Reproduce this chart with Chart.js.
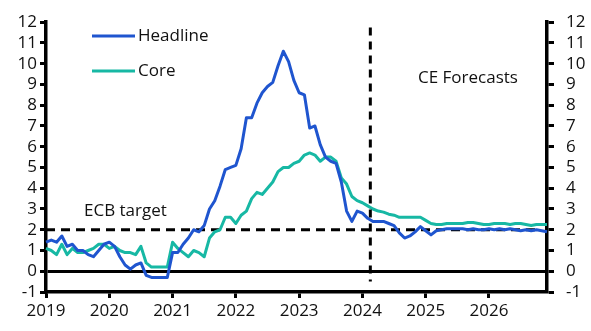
<!DOCTYPE html>
<html>
<head>
<meta charset="utf-8">
<script src="https://cdn.jsdelivr.net/npm/chart.js@4.4.1/dist/chart.umd.min.js"></script>
<style>
  html, body { margin: 0; padding: 0; background: #fff; }
  #wrap { width: 591px; height: 331px; }
</style>
</head>
<body>
<div id="wrap"><canvas id="cpi" width="591" height="331"></canvas></div>
<script>
// Euro-zone HICP inflation, % y/y, monthly Jan 2019 - Dec 2026
const years = [2019, 2020, 2021, 2022, 2023, 2024, 2025, 2026];
const monthNames = ["Jan", "Feb", "Mar", "Apr", "May", "Jun", "Jul", "Aug", "Sep", "Oct", "Nov", "Dec"];
const labels = years.flatMap(y => monthNames.map(m => m + " " + y));

const headline = [
  1.4, 1.5, 1.4, 1.7, 1.2, 1.3, 1.0, 1.0, 0.8, 0.7, 1.0, 1.3,
  1.4, 1.2, 0.7, 0.3, 0.1, 0.3, 0.4, -0.2, -0.3, -0.3, -0.3, -0.3,
  0.9, 0.9, 1.3, 1.6, 2.0, 1.9, 2.2, 3.0, 3.4, 4.1, 4.9, 5.0,
  5.1, 5.9, 7.4, 7.4, 8.1, 8.6, 8.9, 9.1, 9.9, 10.6, 10.1, 9.2,
  8.6, 8.5, 6.9, 7.0, 6.1, 5.5, 5.3, 5.2, 4.3, 2.9, 2.4, 2.9,
  2.8, 2.55, 2.4, 2.4, 2.4, 2.3, 2.2, 1.85, 1.6, 1.7, 1.9, 2.15,
  1.95, 1.75, 1.95, 2.0, 2.05, 2.05, 2.05, 2.05, 2.0, 2.05, 2.0, 2.0,
  2.05, 2.0, 2.05, 2.0, 2.05, 2.0, 1.95, 2.0, 1.95, 2.0, 1.95, 1.9
];

const core = [
  1.1, 1.0, 0.8, 1.3, 0.8, 1.1, 0.9, 0.9, 1.0, 1.1, 1.3, 1.3,
  1.1, 1.2, 1.0, 0.9, 0.9, 0.8, 1.2, 0.4, 0.2, 0.2, 0.2, 0.2,
  1.4, 1.1, 0.9, 0.7, 1.0, 0.9, 0.7, 1.6, 1.9, 2.0, 2.6, 2.6,
  2.3, 2.7, 2.9, 3.5, 3.8, 3.7, 4.0, 4.3, 4.8, 5.0, 5.0, 5.2,
  5.3, 5.6, 5.7, 5.6, 5.3, 5.5, 5.5, 5.3, 4.5, 4.2, 3.6, 3.4,
  3.3, 3.15, 3.0, 2.9, 2.85, 2.75, 2.7, 2.6, 2.6, 2.6, 2.6, 2.6,
  2.45, 2.3, 2.25, 2.25, 2.3, 2.3, 2.3, 2.3, 2.35, 2.35, 2.3, 2.25,
  2.25, 2.3, 2.3, 2.3, 2.25, 2.3, 2.3, 2.25, 2.2, 2.25, 2.25, 2.25
];

const ecbTarget = 2;
const forecastStart = 61.5;   // month index, between Feb and Mar 2024
const yMin = -1, yMax = 12;

const FONT = "'Open Sans', sans-serif";
const INK = "#111";

// legend, target line, forecast divider and text labels
const overlay = {
  id: "overlay",
  beforeDatasetsDraw(chart) {
    const { ctx, chartArea, scales } = chart;
    ctx.save();
    ctx.strokeStyle = "#000";
    ctx.lineWidth = 3;
    ctx.setLineDash([9, 6]);
    const yT = scales.y.getPixelForValue(ecbTarget);
    ctx.beginPath();
    ctx.moveTo(chartArea.left, yT);
    ctx.lineTo(chartArea.right - 8, yT);
    ctx.stroke();
    ctx.restore();
  },
  afterDatasetsDraw(chart) {
    const { ctx, scales } = chart;
    ctx.save();
    ctx.strokeStyle = "#000";
    ctx.lineWidth = 3;
    ctx.setLineDash([8, 6]);
    const xF = scales.x.getPixelForValue(forecastStart);
    ctx.beginPath();
    ctx.moveTo(xF, scales.y.getPixelForValue(11.75));
    ctx.lineTo(xF, scales.y.getPixelForValue(-0.5));
    ctx.stroke();
    ctx.setLineDash([]);

    ctx.font = "17px " + FONT;
    ctx.textBaseline = "middle";
    ctx.fillStyle = INK;
    chart.data.datasets.forEach((ds, i) => {
      const y = 36 + i * 35;
      ctx.strokeStyle = ds.borderColor;
      ctx.lineWidth = 3;
      ctx.beginPath();
      ctx.moveTo(92, y);
      ctx.lineTo(135, y);
      ctx.stroke();
      ctx.fillText(ds.label, 138, y);
    });

    ctx.fillText("ECB target", 84, 211);
    ctx.fillText("CE Forecasts", 418, 78);
    ctx.restore();
  }
};

new Chart(document.getElementById("cpi"), {
  type: "line",
  data: {
    labels: labels,
    datasets: [
      { label: "Headline", data: headline, borderColor: "#1f55cf", order: 1 },
      { label: "Core", data: core, borderColor: "#17b8a4", order: 2 }
    ]
  },
  options: {
    responsive: false,
    animation: false,
    events: [],
    layout: { padding: { top: 9, left: 0, right: 0, bottom: 0 } },
    elements: {
      line: { borderWidth: 3, tension: 0, borderJoinStyle: "round" },
      point: { radius: 0 }
    },
    plugins: { legend: { display: false }, tooltip: { enabled: false } },
    scales: {
      x: {
        type: "category",
        offset: false,
        afterFit: s => { s.height = 39; },
        border: { display: true, color: "#000", width: 3.5 },
        grid: {
          drawOnChartArea: false,
          drawTicks: true,
          tickLength: 6,
          tickWidth: 3,
          tickColor: c => (c.index % 12 === 0 ? "#000" : "rgba(0,0,0,0)")
        },
        ticks: {
          autoSkip: false,
          maxRotation: 0,
          padding: 3,
          color: INK,
          font: { family: FONT, size: 17 },
          callback: function (v, i) {
            const lab = this.getLabelForValue(v);
            return lab.startsWith("Jan") ? lab.slice(4) : "";
          }
        }
      },
      y: {
        position: "left",
        min: yMin,
        max: yMax,
        afterFit: s => { s.width = 46; },
        border: { display: true, color: "#000", width: 3.5 },
        grid: {
          drawOnChartArea: true,
          color: c => (c.tick && c.tick.value === 0 ? "#000" : "rgba(0,0,0,0)"),
          lineWidth: 3,
          tickColor: "#000",
          tickLength: 6,
          tickWidth: 3
        },
        ticks: {
          stepSize: 1,
          autoSkip: false,
          padding: 3,
          color: INK,
          font: { family: FONT, size: 17 }
        }
      },
      y2: {
        position: "right",
        min: yMin,
        max: yMax,
        afterFit: s => { s.width = 44; },
        border: { display: true, color: "#000", width: 3.5 },
        grid: {
          drawOnChartArea: false,
          tickColor: "#000",
          tickLength: 7,
          tickWidth: 3
        },
        ticks: {
          stepSize: 1,
          autoSkip: false,
          padding: 12,
          color: INK,
          font: { family: FONT, size: 17 }
        }
      }
    }
  },
  plugins: [overlay]
});
</script>
</body>
</html>
